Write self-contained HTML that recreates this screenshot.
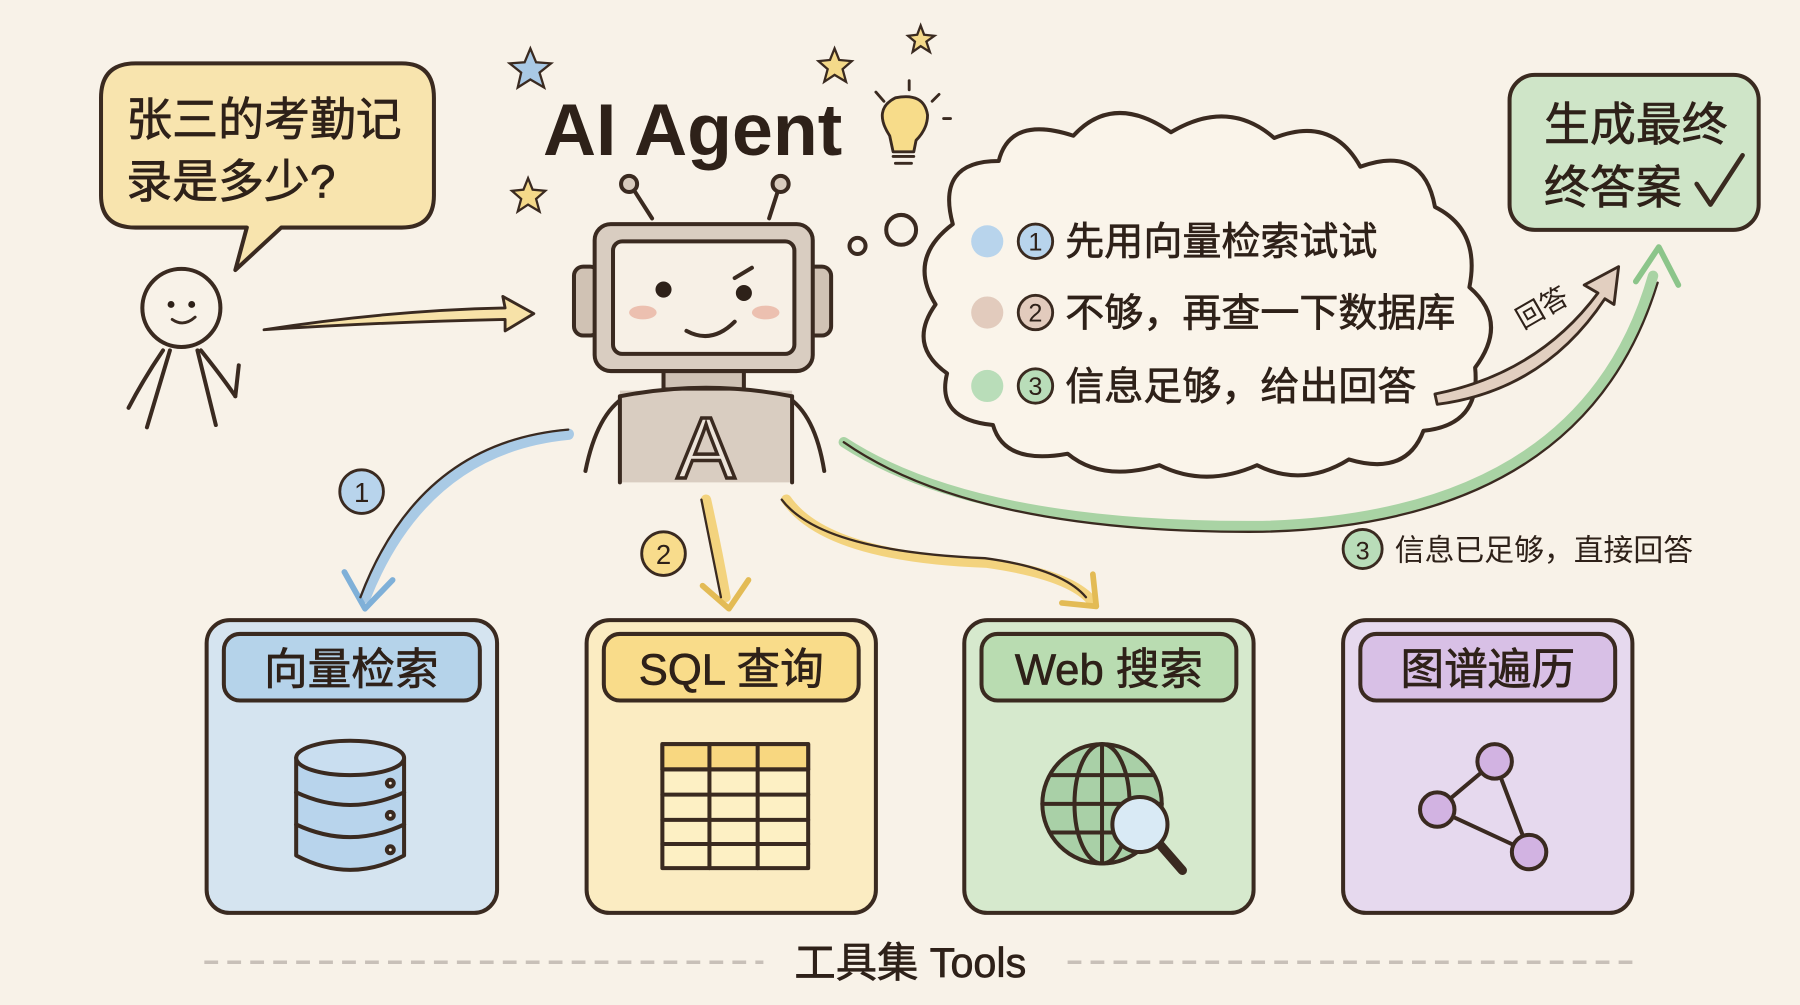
<!DOCTYPE html>
<html><head><meta charset="utf-8"><style>
html,body{margin:0;padding:0;background:#f8f2e8;}
svg{display:block}
text{font-family:"Liberation Sans","Noto Sans CJK SC",sans-serif;fill:#2e2119}
</style></head><body>
<svg width="1800" height="1005" viewBox="0 0 1568 875" xmlns="http://www.w3.org/2000/svg">
<rect width="1568" height="875" fill="#f8f2e8"/>
<g stroke="#3a2a20" stroke-width="3.5" stroke-linecap="round" stroke-linejoin="round">
<path d="M118 55 H350 Q378 55 378 85 V170 Q378 198 350 198 H245 L205 235 L215 198 H118 Q88 198 88 170 V85 Q88 55 118 55Z" fill="#f8e4ae"/>
<circle cx="158" cy="268" r="34" fill="#f8f2e8"/>
<path d="M150 278 Q160 285 170 276" fill="none" stroke-width="2.5"/>
<path d="M142 305 Q125 330 112 355 M175 305 Q195 330 205 345 M205 345 L208 318 M148 305 L128 372 M172 305 L188 370" fill="none"/>
<path d="M230 287 Q340 270 440 268 L438 258 L465 273 L440 288 L440 278 Q340 280 230 287Z" fill="#f7e2a8" stroke-width="2.5"/>
<path d="M568 190 L552 165 M670 190 L678 165" fill="none"/>
<circle cx="548" cy="160" r="7" fill="#d8cbbd"/><circle cx="680" cy="160" r="7" fill="#d8cbbd"/>
<rect x="500" y="232" width="22" height="60" rx="8" fill="#d0c2b4"/>
<rect x="702" y="232" width="22" height="60" rx="8" fill="#d0c2b4"/>
<rect x="518" y="195" width="190" height="128" rx="14" fill="#d9cdc1"/>
<rect x="534" y="210" width="158" height="98" rx="8" fill="#f7f0e6"/>
<rect x="578" y="323" width="70" height="16" fill="#cfc2b5"/>
<path d="M545 345 Q520 360 510 410 M685 345 Q710 360 718 410" fill="none"/>
<path d="M540 340 H690 V420 H540Z" fill="#d9cdc1" stroke="none"/>
<path d="M540 345 V420 M690 345 V420 M540 345 Q615 330 690 345" fill="none"/>
<path d="M640 242 L655 233" fill="none"/>
<path d="M598 288 Q620 300 640 280" fill="none"/>
<circle cx="747" cy="214" r="7" fill="#f8f2e8"/>
<circle cx="785" cy="200" r="13" fill="#f8f2e8"/>
<path d="M830 195 Q815 140 870 140 Q880 100 935 118 Q970 80 1020 115 Q1070 85 1110 120 Q1160 100 1185 145 Q1240 125 1250 180 Q1290 200 1280 250 Q1315 280 1285 320 Q1290 370 1240 375 Q1225 415 1175 400 Q1135 425 1095 405 Q1050 425 1010 405 Q960 420 930 395 Q875 405 865 370 Q815 365 825 325 Q790 300 815 265 Q790 225 830 195Z" fill="#faf4ea"/>
<rect x="1315" y="65" width="217" height="135" rx="22" fill="#cfe5c8"/>
<path d="M1478 160 L1490 178 L1518 135" fill="none" stroke-width="4"/>
<path d="M1250 343 Q1340 325 1392 255 L1380 248 L1410 232 L1406 265 L1398 260 Q1345 340 1252 352Z" fill="#e2cfc0" stroke-width="2.5"/>
<path d="M735 385 Q850 460 1100 458 Q1380 450 1440 240" fill="none" stroke="#a9d3a4" stroke-width="9"/>
<path d="M1425 245 L1445 215 L1462 248" fill="none" stroke="#8cc58a" stroke-width="5"/>
<path d="M735 385 Q850 465 1100 463 Q1380 456 1444 246" fill="none" stroke-width="2"/>
<path d="M495 378 Q370 390 318 520" fill="none" stroke="#a9cae5" stroke-width="10"/>
<path d="M300 498 L318 530 L342 505" fill="none" stroke="#7fb0d8" stroke-width="5"/>
<path d="M495 374 Q365 385 314 520" fill="none" stroke-width="2"/>
<path d="M615 435 Q625 480 632 520" fill="none" stroke="#f3d37e" stroke-width="9"/>
<path d="M612 510 L635 530 L652 505" fill="none" stroke="#e3bb55" stroke-width="5"/>
<path d="M685 435 Q720 485 860 490 Q930 500 950 522" fill="none" stroke="#f3d37e" stroke-width="9"/>
<path d="M925 525 L955 528 L952 500" fill="none" stroke="#e3bb55" stroke-width="5"/>
<path d="M611 435 Q620 480 628 520 M681 435 Q715 480 858 486 Q925 495 946 520" fill="none" stroke-width="2"/>
<rect x="180" y="540" width="253" height="255" rx="20" fill="#d5e4f0"/>
<rect x="195" y="552" width="223" height="58" rx="14" fill="#b5d3ea"/>
<rect x="511" y="540" width="252" height="255" rx="20" fill="#fbecc2"/>
<rect x="526" y="552" width="222" height="58" rx="14" fill="#f9dc8a"/>
<rect x="840" y="540" width="252" height="255" rx="20" fill="#d6e9cd"/>
<rect x="855" y="552" width="222" height="58" rx="14" fill="#b9dcb1"/>
<rect x="1170" y="540" width="252" height="255" rx="20" fill="#e6d9ee"/>
<rect x="1185" y="552" width="222" height="58" rx="14" fill="#d8c0e6"/>
<path d="M258 660 V745 Q305 770 352 745 V660" fill="#b8d4ec"/>
<ellipse cx="305" cy="660" rx="47" ry="15" fill="#c9def0"/>
<path d="M258 690 Q305 712 352 690 M258 718 Q305 740 352 718" fill="none"/>
<circle cx="340" cy="682" r="3" fill="#f8f2e8"/><circle cx="340" cy="710" r="3" fill="#f8f2e8"/><circle cx="340" cy="740" r="3" fill="#f8f2e8"/>
<rect x="577" y="648" width="127" height="108" fill="#fdf0c4"/>
<rect x="577" y="648" width="127" height="22" fill="#f8d780"/>
<path d="M577 670 H704 M577 692 H704 M577 714 H704 M577 735 H704 M618 648 V756 M660 648 V756" fill="none"/>
<circle cx="960" cy="700" r="52" fill="#a9d0a7"/>
<path d="M960 648 V752 M908 700 H1012 M915 675 H1005 M915 725 H1005" fill="none"/>
<ellipse cx="960" cy="700" rx="24" ry="52" fill="none"/>
<path d="M1010 735 L1030 758" fill="none" stroke-width="8"/>
<circle cx="993" cy="718" r="24" fill="#d9eaf5"/>
<path d="M1302 663 L1252 705 L1332 742 Z" fill="none"/>
<circle cx="1302" cy="663" r="15" fill="#d2b3e2"/>
<circle cx="1252" cy="705" r="15" fill="#d2b3e2"/>
<circle cx="1332" cy="742" r="15" fill="#d2b3e2"/>
<path d="M775 118 Q760 95 780 85 Q805 80 808 100 Q808 112 798 122 L796 132 L778 132 Z" fill="#f7dc8a" stroke-width="2.5"/>
<path d="M778 136 H796 M780 142 H794" fill="none" stroke-width="2.5"/>
<path d="M763 80 L770 88 M792 70 L792 78 M818 82 L812 88 M822 103 H828" fill="none" stroke-width="2.5"/>
</g>
<circle cx="149" cy="265" r="3" fill="#2e2119"/><circle cx="167" cy="265" r="3" fill="#2e2119"/>
<ellipse cx="560" cy="272" rx="12" ry="6" fill="#ecc0b0"/>
<ellipse cx="667" cy="272" rx="12" ry="6" fill="#ecc0b0"/>
<circle cx="578" cy="252" r="7" fill="#2e2119"/><circle cx="648" cy="255" r="7" fill="#2e2119"/>
<text x="615" y="416" font-size="76" text-anchor="middle" style="fill:#ece4da;stroke:#3a2a20;stroke-width:3">A</text>
<g fill="#f4d98a" stroke="#3a2a20" stroke-width="2">
<path d="M462 42 l5 12 13 1 -10 8 4 13 -12 -7 -11 7 3 -13 -10 -8 13 -1z" fill="#a9c9e5"/>
<path d="M727 42 l4 10 11 1 -8 7 3 11 -10 -6 -9 6 3 -11 -8 -7 10 -1z"/>
<path d="M802 22 l3 8 9 1 -7 5 3 9 -8 -5 -7 5 2 -9 -6 -5 8 -1z"/>
<path d="M460 155 l4 10 11 1 -8 7 3 11 -10 -6 -9 6 3 -11 -8 -7 10 -1z"/>
</g>
<circle cx="860" cy="210" r="14" fill="#b8d4ec"/>
<circle cx="860" cy="272" r="14" fill="#e2cbbd"/>
<circle cx="860" cy="336" r="14" fill="#b9ddb9"/>
<g stroke="#3a2a20" stroke-width="2.5">
<circle cx="902" cy="210" r="15" fill="#b8d4ec"/>
<circle cx="902" cy="272" r="15" fill="#e2cbbd"/>
<circle cx="902" cy="336" r="15" fill="#b9ddb9"/>
<circle cx="315" cy="428" r="19" fill="#b8d4ec"/>
<circle cx="578" cy="482" r="19" fill="#f8dc8c"/>
<circle cx="1187" cy="478" r="17" fill="#b9ddb9"/>
</g>
<g font-size="22" text-anchor="middle">
<text x="902" y="218">1</text><text x="902" y="280">2</text><text x="902" y="344">3</text>
<text x="315" y="437" font-size="24">1</text><text x="578" y="491" font-size="24">2</text><text x="1187" y="487">3</text>
</g>
<g stroke="#2e2119" stroke-width="0.6">
<text x="110" y="118" font-size="40">张三的考勤记</text>
<text x="110" y="172" font-size="40">录是多少?</text>
<g font-size="34">
<text x="928" y="222">先用向量检索试试</text>
<text x="928" y="284">不够，再查一下数据库</text>
<text x="928" y="348">信息足够，给出回答</text>
</g>
<text x="1345" y="122" font-size="40">生成最终</text>
<text x="1345" y="177" font-size="40">终答案</text>
<g font-size="38" text-anchor="middle">
<text x="306" y="596">向量检索</text>
<text x="637" y="596">SQL 查询</text>
<text x="966" y="596">Web 搜索</text>
<text x="1296" y="596">图谱遍历</text>
</g>
<text x="793" y="851" font-size="36" text-anchor="middle">工具集 Tools</text>
</g>
<text x="473" y="135" font-size="64" font-weight="bold">AI Agent</text>
<text x="1320" y="278" font-size="24" transform="rotate(-30 1340 270)">回答</text>
<text x="1215" y="488" font-size="26">信息已足够，直接回答</text>
<path d="M178 838 H665 M930 838 H1425" stroke="#c8c0b8" stroke-width="3" stroke-dasharray="12 8"/>
</svg>
</body></html>
